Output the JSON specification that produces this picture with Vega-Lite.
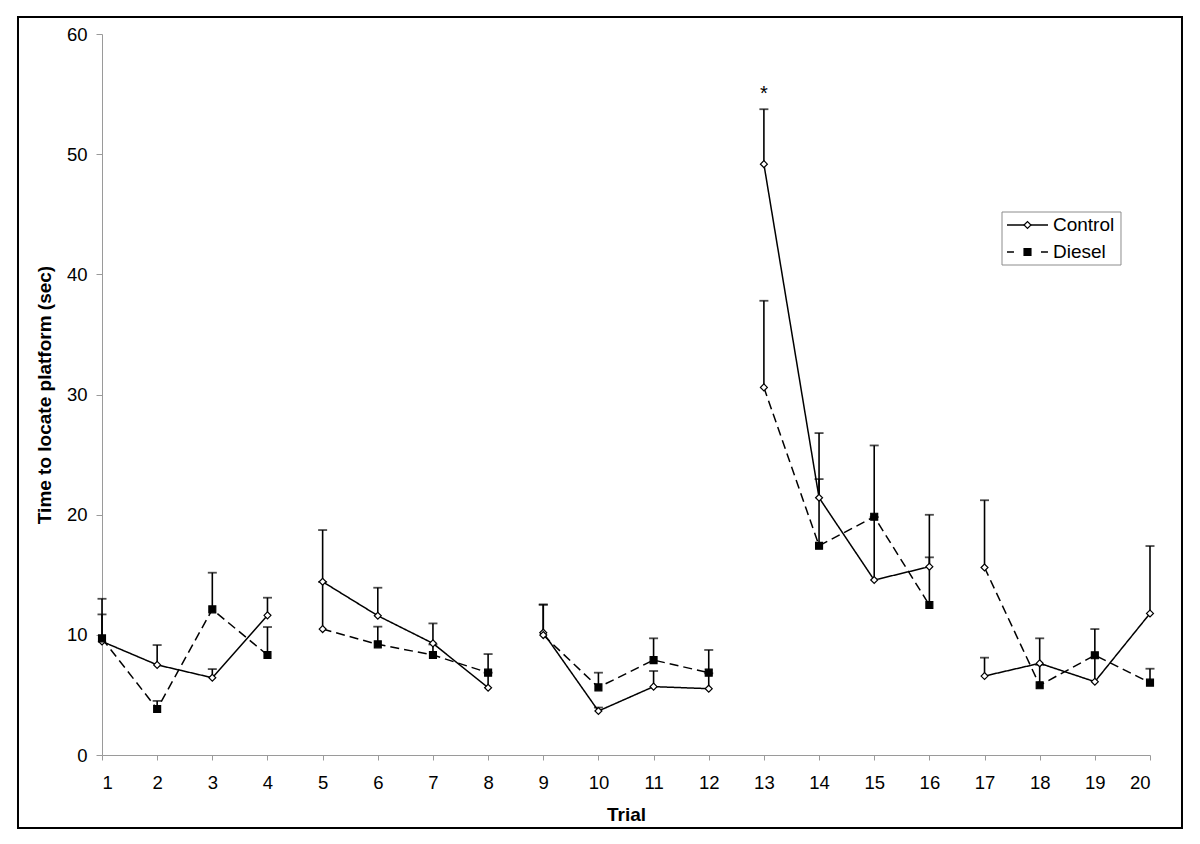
{
  "$schema": "https://vega.github.io/schema/vega-lite/v6.json",
  "width": 1048,
  "height": 721,
  "autosize": {"type": "none"},
  "padding": {"left": 102, "top": 34, "right": 50, "bottom": 89},
  "background": "white",
  "config": {
    "font": "Liberation Sans",
    "view": {"stroke": null}
  },
  "data": {"values": [
    {"trial": 1, "group": "Control", "mean": 9.45, "upper": 13.0},
    {"trial": 2, "group": "Control", "mean": 7.5, "upper": 9.15},
    {"trial": 3, "group": "Control", "mean": 6.43, "upper": 7.15},
    {"trial": 4, "group": "Control", "mean": 11.62, "upper": 13.09},
    {"trial": 5, "group": "Control", "mean": 14.42, "upper": 18.72},
    {"trial": 6, "group": "Control", "mean": 11.59, "upper": 13.92},
    {"trial": 7, "group": "Control", "mean": 9.29, "upper": 10.95},
    {"trial": 8, "group": "Control", "mean": 5.6, "upper": 6.85},
    {"trial": 9, "group": "Control", "mean": 10.18, "upper": 12.53},
    {"trial": 10, "group": "Control", "mean": 3.66, "upper": 3.95},
    {"trial": 11, "group": "Control", "mean": 5.69, "upper": 6.99},
    {"trial": 12, "group": "Control", "mean": 5.52, "upper": 6.8},
    {"trial": 13, "group": "Control", "mean": 49.17, "upper": 53.74},
    {"trial": 14, "group": "Control", "mean": 21.41, "upper": 26.79},
    {"trial": 15, "group": "Control", "mean": 14.56, "upper": 19.8},
    {"trial": 16, "group": "Control", "mean": 15.67, "upper": 19.99},
    {"trial": 17, "group": "Control", "mean": 6.57, "upper": 8.1},
    {"trial": 18, "group": "Control", "mean": 7.63, "upper": 9.71},
    {"trial": 19, "group": "Control", "mean": 6.1, "upper": 8.1},
    {"trial": 20, "group": "Control", "mean": 11.78, "upper": 17.39},
    {"trial": 1, "group": "Diesel", "mean": 9.7, "upper": 11.7},
    {"trial": 2, "group": "Diesel", "mean": 3.83, "upper": 4.5},
    {"trial": 3, "group": "Diesel", "mean": 12.12, "upper": 15.17},
    {"trial": 4, "group": "Diesel", "mean": 8.32, "upper": 10.65},
    {"trial": 5, "group": "Diesel", "mean": 10.48, "upper": 14.4},
    {"trial": 6, "group": "Diesel", "mean": 9.21, "upper": 10.68},
    {"trial": 7, "group": "Diesel", "mean": 8.32, "upper": 9.2},
    {"trial": 8, "group": "Diesel", "mean": 6.85, "upper": 8.4},
    {"trial": 9, "group": "Diesel", "mean": 9.98, "upper": 12.5},
    {"trial": 10, "group": "Diesel", "mean": 5.63, "upper": 6.85},
    {"trial": 11, "group": "Diesel", "mean": 7.9, "upper": 9.71},
    {"trial": 12, "group": "Diesel", "mean": 6.85, "upper": 8.74},
    {"trial": 13, "group": "Diesel", "mean": 30.59, "upper": 37.8},
    {"trial": 14, "group": "Diesel", "mean": 17.41, "upper": 22.96},
    {"trial": 15, "group": "Diesel", "mean": 19.83, "upper": 25.76},
    {"trial": 16, "group": "Diesel", "mean": 12.48, "upper": 16.45},
    {"trial": 17, "group": "Diesel", "mean": 15.6, "upper": 21.2},
    {"trial": 18, "group": "Diesel", "mean": 5.8, "upper": 7.5},
    {"trial": 19, "group": "Diesel", "mean": 8.3, "upper": 10.48},
    {"trial": 20, "group": "Diesel", "mean": 6.02, "upper": 7.18}
  ]},
  "transform": [
    {"calculate": "floor((datum.trial - 1) / 4)", "as": "block"},
    {"calculate": "datum.group === 'Diesel' && (datum.trial === 5 || datum.trial === 9 || datum.trial === 13 || datum.trial === 17)", "as": "blockstart"}
  ],
  "layer": [
    {
      "transform": [{"filter": "datum.trial === 1 && datum.group === 'Control'"}],
      "mark": {"type": "rect", "fill": null, "stroke": "black", "strokeWidth": 2, "clip": false},
      "encoding": {
        "x": {"datum": -0.523, "type": "quantitative", "scale": {"domain": [1, 20], "nice": false, "zero": false}},
        "x2": {"datum": 20.58},
        "y": {"datum": 61.415, "type": "quantitative", "scale": {"domain": [0, 60], "nice": false}},
        "y2": {"datum": -6.075}
      }
    },
    {
      "mark": {"type": "rule", "stroke": "black", "strokeWidth": 1.6},
      "encoding": {
        "x": {"field": "trial", "type": "quantitative"},
        "y": {"field": "mean", "type": "quantitative"},
        "y2": {"field": "upper"}
      }
    },
    {
      "mark": {"type": "tick", "orient": "horizontal", "color": "black", "size": 9, "thickness": 1.8},
      "encoding": {
        "x": {"field": "trial", "type": "quantitative"},
        "y": {"field": "upper", "type": "quantitative"}
      }
    },
    {
      "mark": {"type": "line", "stroke": "black", "strokeWidth": 1.5},
      "encoding": {
        "x": {"field": "trial", "type": "quantitative", "axis": {"values": [1,2,3,4,5,6,7,8,9,10,11,12,13,14,15,16,17,18,19,20], "format": "d", "title": "Trial", "tickSize": 5, "labelPadding": 13, "titlePadding": 14, "grid": false, "domainColor": "#9a9a9a", "tickColor": "#9a9a9a", "labelColor": "black", "labelFontSize": 18.5, "labelFont": "Liberation Sans", "titleFont": "Liberation Sans", "titleFontSize": 19, "titleFontWeight": "bold", "titleColor": "black"}},
        "y": {"field": "mean", "type": "quantitative", "axis": {"values": [0,10,20,30,40,50,60], "title": "Time to locate platform (sec)", "tickSize": 6, "labelPadding": 9, "titlePadding": 12, "grid": false, "domainColor": "#9a9a9a", "tickColor": "#9a9a9a", "labelColor": "black", "labelFontSize": 18.5, "labelFont": "Liberation Sans", "titleFont": "Liberation Sans", "titleFontSize": 19, "titleFontWeight": "bold", "titleColor": "black"}},
        "strokeDash": {"field": "group", "type": "nominal", "scale": {"domain": ["Control", "Diesel"], "range": [[1, 0], [9, 5]]}, "legend": null},
        "detail": {"field": "block"},
        "order": {"field": "trial"}
      }
    },
    {
      "transform": [{"filter": "!datum.blockstart"}],
      "mark": {"type": "point", "filled": true, "size": 48, "stroke": "black", "strokeWidth": 1.2, "opacity": 1},
      "encoding": {
        "x": {"field": "trial", "type": "quantitative"},
        "y": {"field": "mean", "type": "quantitative"},
        "shape": {"field": "group", "type": "nominal", "scale": {"domain": ["Control", "Diesel"], "range": ["diamond", "square"]}, "legend": null},
        "fill": {"field": "group", "type": "nominal", "scale": {"domain": ["Control", "Diesel"], "range": ["white", "black"]}, "legend": null}
      }
    },
    {
      "transform": [{"filter": "datum.blockstart"}],
      "mark": {"type": "point", "filled": true, "shape": "diamond", "fill": "white", "size": 48, "stroke": "black", "strokeWidth": 1.2, "opacity": 1},
      "encoding": {
        "x": {"field": "trial", "type": "quantitative"},
        "y": {"field": "mean", "type": "quantitative"}
      }
    },
    {
      "transform": [{"filter": "datum.trial === 13 && datum.group === 'Control'"}],
      "mark": {"type": "text", "text": "*", "fontSize": 20, "color": "black", "baseline": "alphabetic", "align": "center"},
      "encoding": {
        "x": {"datum": 13, "type": "quantitative"},
        "y": {"datum": 54.5, "type": "quantitative"}
      }
    },
    {
      "transform": [{"filter": "datum.trial === 1 && datum.group === 'Control'"}],
      "mark": {"type": "rect", "fill": "white", "stroke": "#8c8c8c", "strokeWidth": 1, "clip": false},
      "encoding": {
        "x": {"datum": 17.317, "type": "quantitative"},
        "x2": {"datum": 19.474},
        "y": {"datum": 45.187, "type": "quantitative"},
        "y2": {"datum": 40.776}
      }
    },
    {
      "transform": [{"filter": "datum.trial === 1 && datum.group === 'Control'"}],
      "mark": {"type": "rule", "stroke": "black", "strokeWidth": 1.5},
      "encoding": {
        "x": {"datum": 17.407, "type": "quantitative"},
        "x2": {"datum": 18.151},
        "y": {"datum": 44.105, "type": "quantitative"}
      }
    },
    {
      "transform": [{"filter": "datum.trial === 1 && datum.group === 'Diesel'"}],
      "mark": {"type": "rule", "stroke": "black", "strokeWidth": 1.5, "strokeDash": [7, 27]},
      "encoding": {
        "x": {"datum": 17.407, "type": "quantitative"},
        "x2": {"datum": 18.151},
        "y": {"datum": 41.858, "type": "quantitative"}
      }
    },
    {
      "transform": [{"filter": "datum.trial === 1 && datum.group === 'Control'"}],
      "mark": {"type": "point", "filled": true, "shape": "diamond", "fill": "white", "size": 48, "stroke": "black", "strokeWidth": 1.2, "opacity": 1},
      "encoding": {
        "x": {"datum": 17.779, "type": "quantitative"},
        "y": {"datum": 44.105, "type": "quantitative"}
      }
    },
    {
      "transform": [{"filter": "datum.trial === 1 && datum.group === 'Diesel'"}],
      "mark": {"type": "point", "filled": true, "shape": "square", "fill": "black", "size": 48, "stroke": "black", "strokeWidth": 1.2, "opacity": 1},
      "encoding": {
        "x": {"datum": 17.779, "type": "quantitative"},
        "y": {"datum": 41.858, "type": "quantitative"}
      }
    },
    {
      "transform": [{"filter": "datum.trial === 1 && datum.group === 'Control'"}],
      "mark": {"type": "text", "text": "Control", "fontSize": 19, "color": "black", "align": "left", "baseline": "middle", "font": "Liberation Sans"},
      "encoding": {
        "x": {"datum": 18.241, "type": "quantitative"},
        "y": {"datum": 44.105, "type": "quantitative"}
      }
    },
    {
      "transform": [{"filter": "datum.trial === 1 && datum.group === 'Diesel'"}],
      "mark": {"type": "text", "text": "Diesel", "fontSize": 19, "color": "black", "align": "left", "baseline": "middle", "font": "Liberation Sans"},
      "encoding": {
        "x": {"datum": 18.241, "type": "quantitative"},
        "y": {"datum": 41.858, "type": "quantitative"}
      }
    }
  ]
}
